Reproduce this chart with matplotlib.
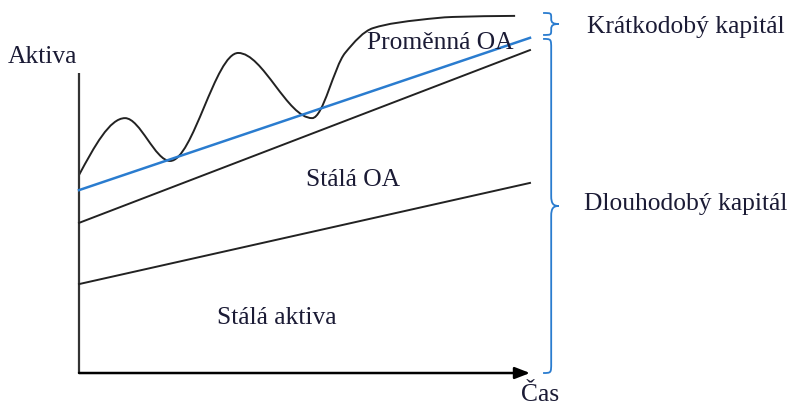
import matplotlib.pyplot as plt
from matplotlib.path import Path
from matplotlib.patches import PathPatch
import numpy as np

# time axis runs 0..10, asset value 0..10 (schematic units)
line_t = [0, 10]
fixed_assets = [2.47, 5.28]      # Stálá aktiva
permanent_ca = [4.17, 8.97]      # Stálá aktiva + stálá OA
long_term_cap = [5.08, 9.31]     # Dlouhodobý kapitál (blue)

# total assets incl. variable current assets (read at peaks / troughs)
wave_t = [0.0, 1.02, 2.02, 3.53, 5.17, 5.90, 6.52, 7.56, 8.29, 9.67]
wave_v = [5.50, 7.08, 5.89, 8.89, 7.08, 8.89, 9.58, 9.81, 9.89, 9.92]

labels = {
    'Aktiva': (-0.82, 8.78),
    'Čas': (10.22, -0.62),
    'Proměnná OA': (8.00, 9.17),
    'Stálá OA': (6.08, 5.36),
    'Stálá aktiva': (4.39, 1.53),
}
brace_labels = ['Krátkodobý kapitál', 'Dlouhodobý kapitál']

TEXT_C = '#1b1b35'
BLUE = '#2a7ccf'
FONT = 'Liberation Serif'
FS = 18.4


def smooth_path(xs, ys):
    # monotone cubic (Fritsch-Carlson) through the read points, as Bezier segments
    x = np.asarray(xs, float)
    y = np.asarray(ys, float)
    h = np.diff(x)
    d = np.diff(y) / h
    m = np.zeros_like(x)
    for i in range(1, len(x) - 1):
        if d[i - 1] * d[i] > 0:
            w1 = 2 * h[i] + h[i - 1]
            w2 = h[i] + 2 * h[i - 1]
            m[i] = (w1 + w2) / (w1 / d[i - 1] + w2 / d[i])
    m[0] = 1.5 * d[0]
    m[-1] = 0.5 * d[-1]
    verts = [(x[0], y[0])]
    codes = [Path.MOVETO]
    for i in range(len(x) - 1):
        verts += [(x[i] + h[i] / 3, y[i] + m[i] * h[i] / 3),
                  (x[i + 1] - h[i] / 3, y[i + 1] - m[i + 1] * h[i] / 3),
                  (x[i + 1], y[i + 1])]
        codes += [Path.CURVE4] * 3
    return Path(verts, codes)


def brace(ax, y0, y1, r):
    xl, xs, xt = 10.29, 10.47, 10.64
    ym = (y0 + y1) / 2
    verts = [(xl, y1), (xs, y1), (xs, y1), (xs, y1 - r),
             (xs, ym + r),
             (xs, ym + 0.2 * r), (xs + 0.3 * (xt - xs), ym), (xt, ym),
             (xs + 0.3 * (xt - xs), ym), (xs, ym - 0.2 * r), (xs, ym - r),
             (xs, y0 + r),
             (xs, y0), (xs, y0), (xl, y0)]
    codes = [Path.MOVETO] + [Path.CURVE4] * 3 + [Path.LINETO] + [Path.CURVE4] * 6 + \
            [Path.LINETO] + [Path.CURVE4] * 3
    ax.add_patch(PathPatch(Path(verts, codes), fc='none', ec=BLUE, lw=1.3,
                           clip_on=False))


fig = plt.figure(figsize=(7.94, 4.07), dpi=100)
ax = fig.add_axes([0, 0, 1, 1])
ax.set_xlim(-1.752, 15.854)
ax.set_ylim(-0.944, 10.361)
ax.axis('off')

# axes of the diagram
ax.plot([0, 0], [0, 8.33], color='#333333', lw=1.6, solid_capstyle='butt')
ax.annotate('', xy=(10, 0), xytext=(0, 0),
            arrowprops=dict(arrowstyle='-|>,head_length=0.9,head_width=0.35',
                            color='black', lw=1.8, shrinkA=0, shrinkB=0))

ax.plot(line_t, fixed_assets, color='#222222', lw=1.4)
ax.plot(line_t, permanent_ca, color='#222222', lw=1.4)
ax.plot(line_t, long_term_cap, color=BLUE, lw=1.8)
ax.add_patch(PathPatch(smooth_path(wave_t, wave_v), fc='none', ec='#222222', lw=1.4))

for txt, (x, y) in labels.items():
    ax.text(x, y, txt, ha='center', va='center', fontsize=FS, color=TEXT_C, family=FONT)

top = max(wave_v)
brace(ax, long_term_cap[1] + 0.08, top + 0.08, 0.14)
brace(ax, 0, long_term_cap[1] - 0.03, 0.28)
ax.text(13.46, 9.61, brace_labels[0], ha='center', va='center', fontsize=FS, color=TEXT_C, family=FONT)
ax.text(13.46, 4.70, brace_labels[1], ha='center', va='center', fontsize=FS, color=TEXT_C, family=FONT)

fig.savefig('out.png', dpi=100)
